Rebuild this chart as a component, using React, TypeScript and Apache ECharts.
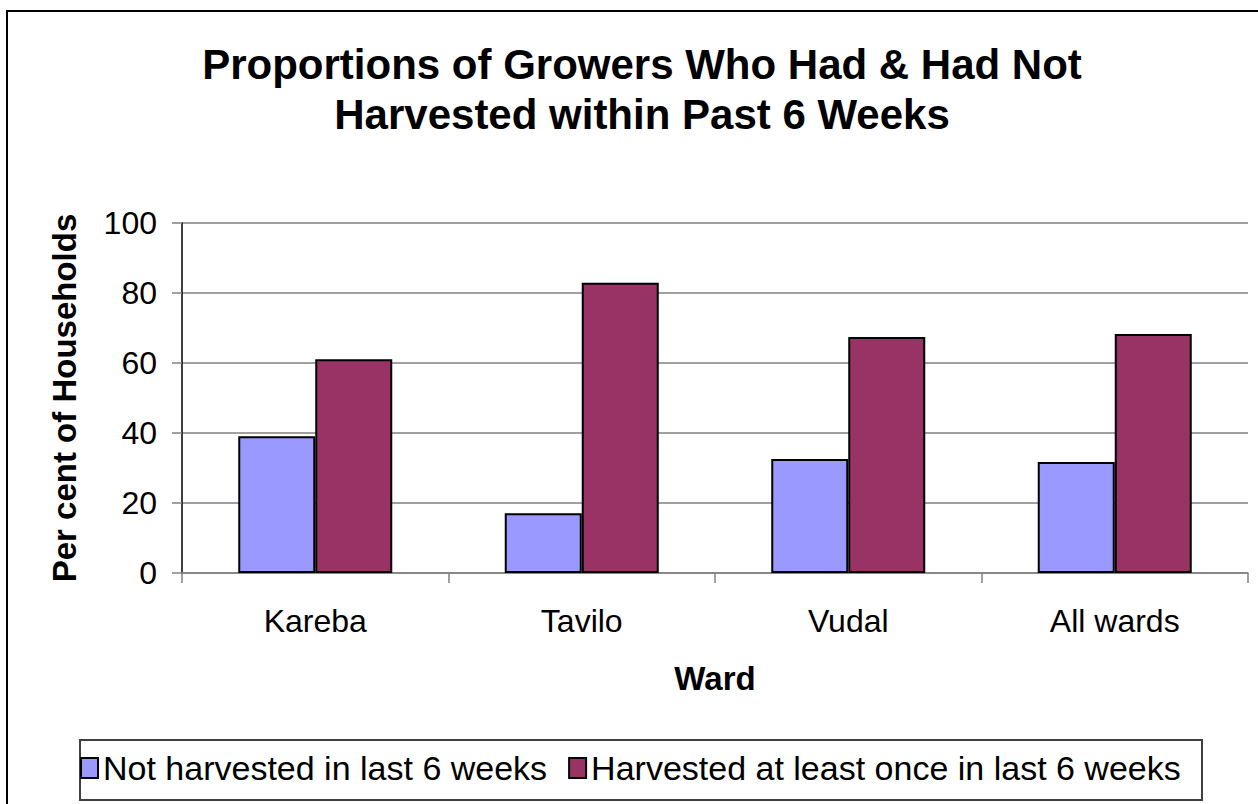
import React, { useEffect, useRef } from "react";
import * as echarts from "echarts";

const titleLines = [
  "Proportions of Growers Who Had & Had Not",
  "Harvested within Past 6 Weeks",
];
const categories = ["Kareba", "Tavilo", "Vudal", "All wards"];
const notHarvested = [39.1, 17.1, 32.6, 31.7];
const harvested = [61.1, 82.9, 67.4, 68.3];
const seriesNames = [
  "Not harvested in last 6 weeks",
  "Harvested at least once in last 6 weeks",
];
const yTicks = { min: 0, max: 100, interval: 20 };
const xAxisName = "Ward";
const yAxisName = "Per cent of Households";

const FONT = "Liberation Sans, Arial, sans-serif";

export default function App() {
  const ref = useRef<HTMLDivElement>(null);
  useEffect(() => {
    if (!ref.current) return;
    const chart = echarts.init(ref.current, null, { renderer: "svg" });
    chart.setOption({
      animation: false,
      backgroundColor: "#ffffff",
      textStyle: { fontFamily: FONT },
      title: {
        text: titleLines.join("\n"),
        left: 637,
        top: 34,
        textAlign: "center",
        textStyle: {
          fontFamily: FONT,
          fontWeight: "bold",
          fontSize: 42,
          lineHeight: 50,
          color: "#000",
        },
      },
      grid: { left: 182, right: 10, top: 223, bottom: 231, containLabel: false },
      legend: {
        left: 80,
        top: 751,
        padding: 0,
        itemWidth: 17,
        itemHeight: 20,
        itemGap: 21,
        icon: "rect",
        textStyle: { fontFamily: FONT, fontSize: 34, color: "#000", padding: [0, 0, 0, 0] },
        data: seriesNames,
      },
      xAxis: {
        type: "category",
        data: categories,
        name: xAxisName,
        nameLocation: "middle",
        nameGap: 89,
        nameTextStyle: { fontFamily: FONT, fontWeight: "bold", fontSize: 33, color: "#000" },
        axisLine: { show: true, lineStyle: { color: "#808080", width: 1.5 } },
        axisTick: { show: true, alignWithLabel: false, length: 10, lineStyle: { color: "#808080", width: 1.5 } },
        axisLabel: { fontFamily: FONT, fontSize: 32, color: "#000", margin: 32 },
        splitLine: { show: false },
      },
      yAxis: {
        type: "value",
        min: yTicks.min,
        max: yTicks.max,
        interval: yTicks.interval,
        name: yAxisName,
        nameLocation: "middle",
        nameGap: 101,
        nameTextStyle: { fontFamily: FONT, fontWeight: "bold", fontSize: 33, color: "#000" },
        axisLine: { show: true, lineStyle: { color: "#000", width: 1.5 } },
        axisTick: { show: true, length: 10, lineStyle: { color: "#808080", width: 1.5 } },
        axisLabel: { fontFamily: FONT, fontSize: 32, color: "#000", margin: 25 },
        splitLine: { show: true, lineStyle: { color: "#808080", width: 1.5 } },
      },
      series: [
        {
          name: seriesNames[0],
          type: "bar",
          data: notHarvested,
          barWidth: 77,
          barGap: "0%",
          itemStyle: { color: "#9999FF", borderColor: "#000", borderWidth: 2 },
        },
        {
          name: seriesNames[1],
          type: "bar",
          data: harvested,
          barWidth: 77,
          barGap: "0%",
          itemStyle: { color: "#993366", borderColor: "#000", borderWidth: 2 },
        },
      ],
      graphic: [
        {
          type: "rect",
          silent: true,
          z: -1,
          shape: { x: 7, y: 11, width: 1300, height: 900 },
          style: { fill: "none", stroke: "#000", lineWidth: 2 },
        },
        {
          type: "rect",
          silent: true,
          z: -1,
          shape: { x: 80, y: 740, width: 1122, height: 60 },
          style: { fill: "#fff", stroke: "#404040", lineWidth: 2 },
        },
      ],
    });
    return () => chart.dispose();
  }, []);
  return (
    <div
      ref={ref}
      style={{ position: "absolute", left: 0, top: 0, width: 1258, height: 804 }}
    />
  );
}
